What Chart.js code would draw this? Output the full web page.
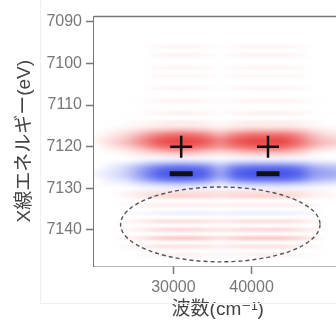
<!DOCTYPE html>
<html>
<head>
<meta charset="utf-8">
<script src="https://cdn.jsdelivr.net/npm/chart.js@4.4.1/dist/chart.umd.min.js"></script>
<style>
  html, body { margin: 0; padding: 0; background: #fff; overflow: hidden; }
  canvas { display: block; }
</style>
</head>
<body>
<canvas id="xasChart" width="358" height="327"></canvas>
<script>
// 列 (波数, cm-1) と 行 (X線エネルギー, eV)
const wavenumbers = [20000, 22000, 24000, 26000, 28000, 30000, 32000, 34000, 36000, 38000, 40000, 42000, 44000, 46000, 48000, 50000, 52000];
const energies = [7096, 7098, 7101, 7103, 7106, 7109, 7112, 7114,
                  7115, 7116, 7117, 7118, 7119, 7120, 7121, 7122, 7123,
                  7124, 7125, 7126, 7127, 7128, 7129, 7130,
                  7131, 7132, 7134, 7136, 7138, 7140, 7142, 7144, 7146];
// 強度 (%)  正 = 赤, 負 = 青
const intensity = [
  [0, 0, 0, 0, 4, 6, 6, 4, 1, 4, 6, 6, 6, 4, 0, 0, 0],
  [0, 0, 0, 0, 5, 7, 7, 5, 1, 5, 7, 7, 7, 5, 0, 0, 0],
  [0, 0, 0, 0, 4, 6, 6, 4, 1, 4, 6, 6, 6, 4, 0, 0, 0],
  [0, 0, 0, 0, 4, 5, 5, 4, 1, 4, 5, 5, 5, 4, 0, 0, 0],
  [0, 0, 0, 0, 4, 6, 6, 4, 1, 4, 6, 6, 6, 4, 0, 0, 0],
  [0, 0, 0, 2, 5, 7, 7, 5, 2, 5, 7, 7, 7, 5, 2, 0, 0],
  [0, 0, 0, 2, 6, 8, 8, 6, 2, 6, 8, 8, 8, 6, 2, 0, 0],
  [0, 0, 2, 4, 7, 9, 9, 7, 3, 7, 9, 9, 9, 7, 3, 0, 0],
  [0, 0, 3, 6, 10, 12, 12, 10, 6, 10, 12, 12, 12, 10, 5, 2, 0],
  [0, 5, 10, 20, 30, 35, 35, 30, 20, 30, 35, 35, 35, 30, 15, 8, 5],
  [0, 10, 20, 40, 60, 70, 70, 60, 40, 60, 70, 70, 70, 55, 30, 15, 10],
  [5, 15, 30, 55, 80, 90, 90, 80, 60, 80, 90, 90, 90, 70, 40, 25, 20],
  [5, 20, 35, 60, 85, 95, 95, 85, 65, 85, 95, 95, 95, 75, 45, 30, 25],
  [0, 12, 25, 45, 70, 80, 80, 70, 55, 70, 80, 80, 80, 60, 35, 20, 15],
  [0, 5, 12, 25, 40, 50, 50, 40, 30, 40, 50, 50, 50, 35, 15, 8, 5],
  [0, 0, 5, 10, 15, 20, 20, 15, 10, 15, 20, 20, 20, 15, 5, 0, 0],
  [0, 0, 0, -5, -8, -10, -10, -8, -5, -8, -10, -10, -10, -8, -5, -3, -3],
  [0, -5, -12, -25, -40, -45, -45, -40, -25, -40, -45, -45, -45, -40, -25, -20, -15],
  [0, -10, -25, -50, -75, -85, -85, -75, -45, -75, -85, -85, -85, -75, -50, -40, -35],
  [-5, -15, -30, -60, -90, -100, -100, -90, -55, -90, -100, -100, -100, -90, -60, -50, -45],
  [-5, -15, -30, -60, -90, -100, -100, -90, -55, -90, -100, -100, -100, -90, -60, -50, -45],
  [0, -10, -20, -45, -70, -80, -80, -70, -40, -70, -80, -80, -80, -70, -45, -35, -30],
  [0, -5, -8, -20, -30, -35, -35, -30, -15, -30, -35, -35, -35, -30, -20, -15, -10],
  [0, 0, 0, -5, -8, -10, -10, -8, -5, -8, -10, -10, -10, -8, -5, -3, 0],
  [0, 0, 6, 10, 14, 16, 16, 16, 14, 16, 16, 16, 16, 14, 8, 4, 0],
  [0, 0, 6, 12, 18, 22, 22, 20, 16, 20, 22, 22, 22, 16, 8, 4, 0],
  [0, 0, 3, 6, 10, 10, 10, 10, 8, 10, 10, 10, 10, 8, 4, 0, 0],
  [0, 0, 0, -4, -8, -10, -10, -10, -8, -10, -10, -10, -10, -8, -4, 0, 0],
  [0, 0, 5, 10, 16, 18, 18, 16, 12, 16, 18, 18, 18, 14, 6, 0, 0],
  [0, 0, 5, 10, 18, 22, 22, 18, 14, 18, 22, 22, 22, 16, 8, 0, 0],
  [0, 0, 6, 14, 24, 30, 30, 26, 18, 26, 30, 30, 30, 22, 10, 0, 0],
  [0, 0, 4, 8, 14, 16, 16, 14, 10, 14, 16, 16, 16, 10, 5, 0, 0],
  [0, 0, 0, 3, 6, 8, 8, 6, 5, 6, 8, 8, 8, 5, 2, 0, 0]
];
const gridStart = 7089;
const gridEnd = 7149;

// 記号 (+ / −) の位置
const plusMarks = [{ x: 31000, y: 7120 }, { x: 42100, y: 7120 }];
const minusMarks = [{ x: 31000, y: 7126.5 }, { x: 42100, y: 7126.5 }];
// 破線の楕円: 中心と半径
const ellipseCenter = { x: 36000, y: 7138.7 };
const ellipseRadius = { x: 12750, y: 9 };

const xTicks = [30000, 40000];
const yTicks = [7090, 7100, 7110, 7120, 7130, 7140];

const toColor = (v) => {
    if (v >= 0) {
        return [255 - 20 * v, 255 - 190 * v, 255 - 190 * v];
    }
    const a = -v;
    return [255 - 180 * a, 255 - 165 * a, 255 - 20 * a];
};

const heatmapPlugin = {
    id: 'heatmap',
    beforeDatasetsDraw(chart) {
        const { ctx, chartArea, scales: { x, y } } = chart;
        const rows = gridEnd - gridStart + 1;
        const cols = wavenumbers.length;
        const off = document.createElement('canvas');
        off.width = cols;
        off.height = rows;
        const octx = off.getContext('2d');
        const img = octx.createImageData(cols, rows);
        for (let r = 0; r < rows; r++) {
            const idx = energies.indexOf(gridStart + r);
            for (let c = 0; c < cols; c++) {
                const v = idx >= 0 ? intensity[idx][c] / 100 : 0;
                const [R, G, B] = toColor(v);
                const p = (r * cols + c) * 4;
                img.data[p] = R;
                img.data[p + 1] = G;
                img.data[p + 2] = B;
                img.data[p + 3] = 255;
            }
        }
        octx.putImageData(img, 0, 0);

        const step = wavenumbers[1] - wavenumbers[0];
        const xL = x.getPixelForValue(wavenumbers[0] - step / 2);
        const xR = x.getPixelForValue(wavenumbers[cols - 1] + step / 2);
        const yT = y.getPixelForValue(gridStart - 0.5);
        const yB = y.getPixelForValue(gridEnd + 0.5);

        ctx.save();
        ctx.beginPath();
        ctx.rect(chartArea.left, chartArea.top, chartArea.right - chartArea.left, chartArea.bottom - chartArea.top);
        ctx.clip();
        ctx.imageSmoothingEnabled = true;
        ctx.imageSmoothingQuality = 'high';
        ctx.drawImage(off, xL, yT, xR - xL, yB - yT);

        // 破線の楕円
        const cx = x.getPixelForValue(ellipseCenter.x);
        const cy = y.getPixelForValue(ellipseCenter.y);
        const rx = Math.abs(x.getPixelForValue(ellipseCenter.x + ellipseRadius.x) - cx);
        const ry = Math.abs(y.getPixelForValue(ellipseCenter.y + ellipseRadius.y) - cy);
        ctx.beginPath();
        ctx.setLineDash([4, 3]);
        ctx.lineWidth = 1.4;
        ctx.strokeStyle = '#555';
        ctx.ellipse(cx, cy, rx, ry, 0, 0, Math.PI * 2);
        ctx.stroke();
        ctx.restore();
    },
    afterDraw(chart) {
        const { ctx, chartArea } = chart;
        ctx.save();
        ctx.strokeStyle = '#777';
        ctx.lineWidth = 1.6;
        ctx.beginPath();
        ctx.moveTo(chartArea.left, chartArea.top);
        ctx.lineTo(chartArea.right, chartArea.top);
        ctx.lineTo(chartArea.right, chartArea.bottom);
        ctx.stroke();
        // 薄い枠線
        ctx.strokeStyle = '#efefef';
        ctx.lineWidth = 1;
        ctx.beginPath();
        ctx.moveTo(40.5, 0);
        ctx.lineTo(40.5, 303.5);
        ctx.lineTo(chart.width, 303.5);
        ctx.stroke();
        ctx.restore();
    }
};

const tickFont = { family: "'Liberation Sans', Arial, sans-serif", size: 16 };
const titleFont = { family: "'Liberation Sans', 'DejaVu Sans', 'Noto Sans CJK JP', sans-serif", size: 19 };

new Chart(document.getElementById('xasChart').getContext('2d'), {
    type: 'scatter',
    data: {
        datasets: [{
            label: '+',
            data: plusMarks,
            pointStyle: 'cross',
            pointRadius: 11,
            borderWidth: 2.5,
            borderColor: '#111',
            backgroundColor: '#111',
        }, {
            label: '-',
            data: minusMarks,
            pointStyle: 'line',
            pointRadius: 11.5,
            borderWidth: 5,
            borderColor: '#111',
            backgroundColor: '#111',
        }],
    },
    options: {
        responsive: false,
        animation: false,
        layout: { padding: { top: 15, right: 2, left: 0, bottom: 0 } },
        plugins: {
            legend: { display: false },
            tooltip: { enabled: false },
        },
        scales: {
            x: {
                type: 'linear',
                min: 19850,
                max: 51500,
                afterBuildTicks: (s) => { s.ticks = xTicks.map(v => ({ value: v })); },
                afterFit: (s) => {
                    s.height = 61;
                    s.paddingLeft = 0;
                    s.paddingRight = 0;
                },
                ticks: {
                    color: '#777',
                    font: tickFont,
                    padding: 4,
                    maxRotation: 0,
                    callback: (v) => String(v),
                },
                grid: { drawOnChartArea: false, tickLength: 8, tickColor: '#777', tickWidth: 1.5 },
                border: { display: true, color: '#777', width: 1.6 },
                title: {
                    display: true,
                    text: '波数(cm⁻¹)',
                    color: '#444',
                    font: titleFont,
                    padding: { top: 0, bottom: 6 },
                },
            },
            y: {
                type: 'linear',
                reverse: true,
                min: 7088.7,
                max: 7148.7,
                afterBuildTicks: (s) => { s.ticks = yTicks.map(v => ({ value: v })); },
                afterFit: (s) => {
                    s.width = 94;
                    s.paddingTop = 0;
                    s.paddingBottom = 0;
                },
                ticks: {
                    color: '#777',
                    font: tickFont,
                    padding: 4,
                    callback: (v) => String(v),
                },
                grid: { drawOnChartArea: false, tickLength: 8, tickColor: '#777', tickWidth: 1.5 },
                border: { display: true, color: '#777', width: 1.6 },
                title: {
                    display: true,
                    text: 'X線エネルギー(eV)',
                    color: '#444',
                    font: titleFont,
                    padding: { top: 13.6, bottom: 0 },
                },
            },
        },
    },
    plugins: [heatmapPlugin],
});
</script>
</body>
</html>
